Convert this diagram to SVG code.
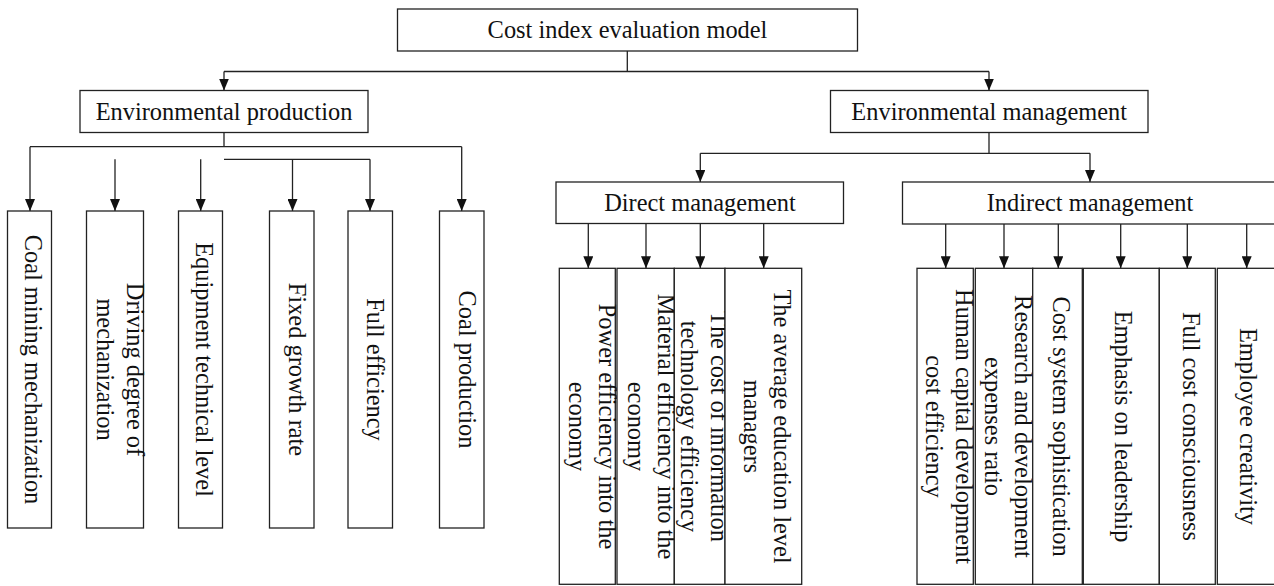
<svg xmlns="http://www.w3.org/2000/svg" width="1274" height="586" viewBox="0 0 1274 586">
<style>
.box{fill:#fff;stroke:#222;stroke-width:1.3}
.t{font-family:"Liberation Serif","Times New Roman",serif;font-size:24.4px;fill:#111;text-anchor:middle}
.c{fill:none;stroke:#222;stroke-width:1.3}
.a{fill:none;stroke:#222;stroke-width:1.3;marker-end:url(#arr)}
</style>
<defs>
<marker id="arr" viewBox="0 0 12 10" refX="12" refY="5" markerWidth="12" markerHeight="10" markerUnits="userSpaceOnUse" orient="auto">
<path d="M0,0 L12,5 L0,10 z" fill="#111"/>
</marker>
</defs>
<rect width="1274" height="586" fill="#fff"/>
<g id="connectors">
<path class="c" d="M627.3,50.7 V71.5 M224,71.5 H989 M224,132.3 V146.7 M30,146.7 H461.7 M224,159.3 H370 M989,132.3 V153.3 M700.3,153.3 H1090"/>
<path class="a" d="M224,71.5 V90.5"/>
<path class="a" d="M989,71.5 V90.5"/>
<path class="a" d="M30,146.7 V211"/>
<path class="a" d="M461.7,146.7 V211"/>
<path class="a" d="M292.5,159.3 V211"/>
<path class="a" d="M370,159.3 V211"/>
<path class="a" d="M115,159.3 V211"/>
<path class="a" d="M200.7,159.3 V211"/>
<path class="a" d="M700.3,153.3 V182"/>
<path class="a" d="M1090,153.3 V182"/>
<path class="a" d="M588.3,223.3 V268.3"/>
<path class="a" d="M646,223.3 V268.3"/>
<path class="a" d="M700.3,223.3 V268.3"/>
<path class="a" d="M763.7,223.3 V268.3"/>
<path class="a" d="M945.7,224 V268.3"/>
<path class="a" d="M1004,224 V268.3"/>
<path class="a" d="M1058.3,224 V268.3"/>
<path class="a" d="M1120.7,224 V268.3"/>
<path class="a" d="M1187.3,224 V268.3"/>
<path class="a" d="M1246.7,224 V268.3"/>
</g>
<g id="root"><rect class="box" x="397.5" y="9" width="460" height="42"/><text class="t" x="627.5" y="38">Cost index evaluation model</text></g>
<g id="env-production"><rect class="box" x="80" y="90.5" width="288" height="42"/><text class="t" x="224" y="119.5">Environmental production</text></g>
<g id="env-management"><rect class="box" x="830.5" y="90.5" width="317.5" height="42"/><text class="t" x="989.2" y="119.5">Environmental management</text></g>
<g id="direct-management"><rect class="box" x="556" y="182" width="287.5" height="41.5"/><text class="t" x="700" y="210.5">Direct management</text></g>
<g id="indirect-management"><rect class="box" x="902.5" y="182" width="375" height="42"/><text class="t" x="1090" y="210.5">Indirect management</text></g>

<g id="coal-mining-mechanization"><rect class="box" x="7.5" y="211" width="44" height="317"/><text class="t" transform="translate(25,369.5) rotate(90)">Coal mining mechanization</text></g>
<g id="driving-degree"><rect class="box" x="86.5" y="211" width="57" height="317"/><text class="t" transform="translate(127,369.5) rotate(90)">Driving degree of<tspan x="0" dy="30">mechanization</tspan></text></g>
<g id="equipment-technical-level"><rect class="box" x="178.5" y="211" width="44" height="317"/><text class="t" transform="translate(196,369.5) rotate(90)">Equipment technical level</text></g>
<g id="fixed-growth-rate"><rect class="box" x="269.5" y="211" width="44.5" height="317"/><text class="t" transform="translate(288.5,369.5) rotate(90)">Fixed growth rate</text></g>
<g id="full-efficiency"><rect class="box" x="348" y="211" width="44.5" height="317"/><text class="t" transform="translate(366.5,369.5) rotate(90)">Full efficiency</text></g>
<g id="coal-production"><rect class="box" x="439.5" y="211" width="44.5" height="317"/><text class="t" transform="translate(458.5,369.5) rotate(90)">Coal production</text></g>

<g id="power-efficiency"><rect class="box" x="559.3" y="268.3" width="56" height="316"/><text class="t" transform="translate(599,426.5) rotate(90)">Power efficiency into the<tspan x="0" dy="30">economy</tspan></text></g>
<g id="material-efficiency"><rect class="box" x="617" y="268.3" width="57.3" height="316"/><text class="t" transform="translate(658,426.5) rotate(90)">Material efficiency into the<tspan x="0" dy="30">economy</tspan></text></g>
<g id="information-cost"><rect class="box" x="674.3" y="268.3" width="50.7" height="316"/><text class="t" transform="translate(711,426.5) rotate(90)">The cost of information<tspan x="0" dy="30">technology efficiency</tspan></text></g>
<g id="education-level"><rect class="box" x="725" y="268.3" width="76.7" height="316"/><text class="t" transform="translate(774,426.5) rotate(90)">The average education level<tspan x="0" dy="30">managers</tspan></text></g>

<g id="human-capital"><rect class="box" x="917" y="268.3" width="56.3" height="316"/><text class="t" transform="translate(955.5,426.5) rotate(90)">Human capital development<tspan x="0" dy="30">cost efficiency</tspan></text></g>
<g id="research-development"><rect class="box" x="975.3" y="268.3" width="57.4" height="316"/><text class="t" transform="translate(1015,426.5) rotate(90)">Research and development<tspan x="0" dy="30">expenses ratio</tspan></text></g>
<g id="cost-system"><rect class="box" x="1032.7" y="268.3" width="49.6" height="316"/><text class="t" transform="translate(1053,426.5) rotate(90)">Cost system sophistication</text></g>
<g id="leadership"><rect class="box" x="1083.3" y="268.3" width="76" height="316"/><text class="t" transform="translate(1115,426.5) rotate(90)">Emphasis on leadership</text></g>
<g id="full-cost"><rect class="box" x="1159.3" y="268.3" width="56" height="316"/><text class="t" transform="translate(1183,426.5) rotate(90)">Full cost consciousness</text></g>
<g id="employee-creativity"><rect class="box" x="1217.3" y="268.3" width="59" height="316"/><text class="t" transform="translate(1240,426.5) rotate(90)">Employee creativity</text></g>
</svg>
